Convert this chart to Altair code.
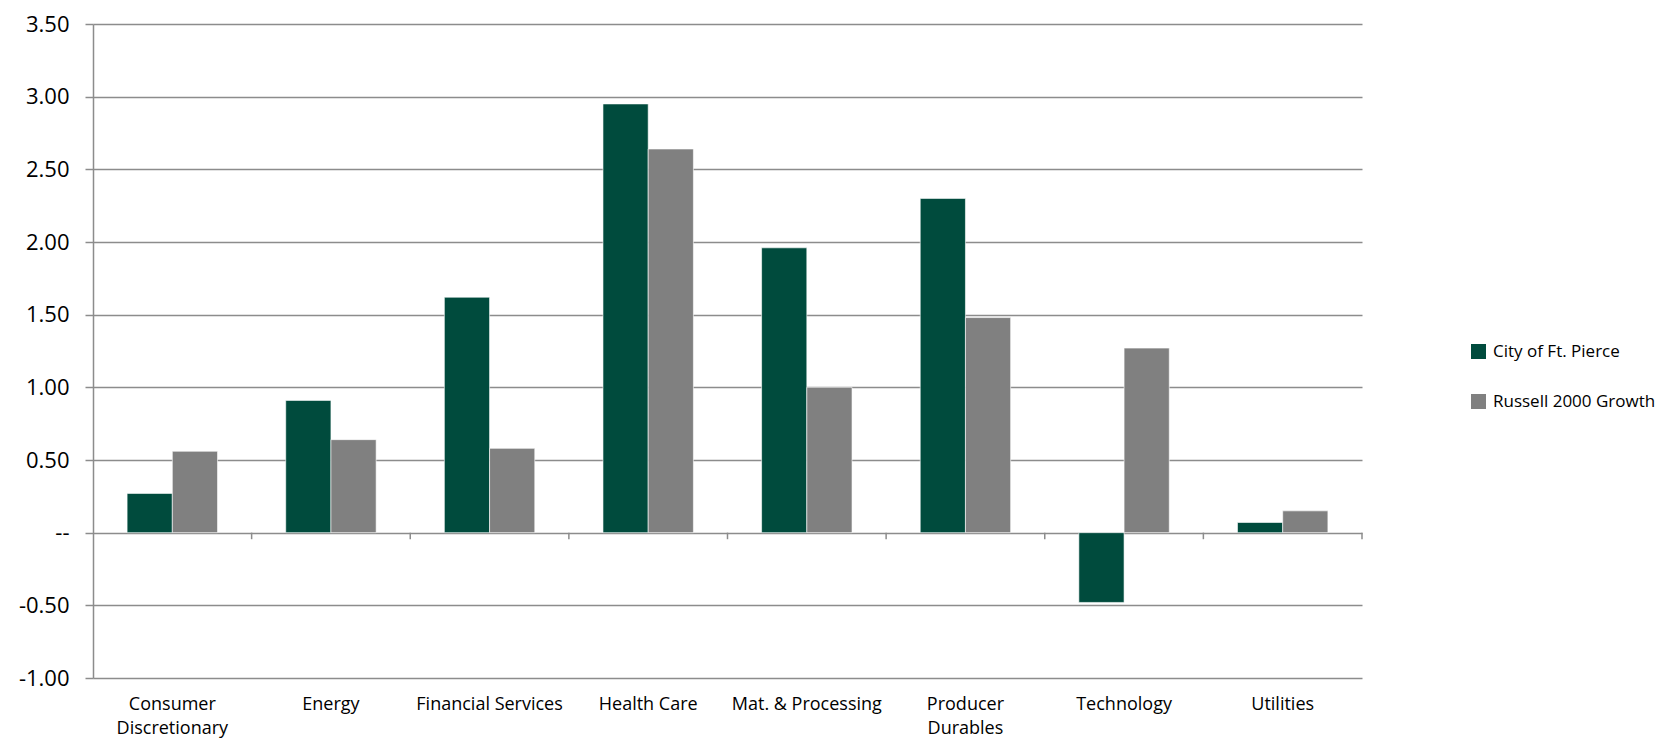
import altair as alt
import pandas as pd

categories = ["Consumer Discretionary", "Energy", "Financial Services", "Health Care",
              "Mat. & Processing", "Producer Durables", "Technology", "Utilities"]
city_values = [0.27, 0.91, 1.62, 2.95, 1.96, 2.30, -0.48, 0.07]
russell_values = [0.56, 0.64, 0.58, 2.64, 1.00, 1.48, 1.27, 0.15]
series_names = ["City of Ft. Pierce", "Russell 2000 Growth"]
series_colors = ["#004B3D", "#808080"]
y_ticks = [-1.0, -0.5, 0.0, 0.5, 1.0, 1.5, 2.0, 2.5, 3.0, 3.5]
boundary_index = [1, 2, 3, 4, 5, 6, 7, 8]

rows = []
for c, a, b in zip(categories, city_values, russell_values):
    rows.append({"category": c, "series": series_names[0], "value": a})
    rows.append({"category": c, "series": series_names[1], "value": b})
df = pd.DataFrame(rows)

FONT = "Open Sans"
GRID = "#8c8c8c"

x_label_expr = ("datum.label == 'Consumer Discretionary' ? ['Consumer', 'Discretionary'] : "
                "datum.label == 'Producer Durables' ? ['Producer', 'Durables'] : datum.label")
y_label_expr = "datum.value == 0 ? '--' : replace(format(datum.value, '.2f'), '\u2212', '-')"

bars = alt.Chart(df).mark_bar(stroke="white", strokeWidth=0.6).encode(
    x=alt.X("category:N", sort=categories, title=None,
            scale=alt.Scale(paddingInner=0.43, paddingOuter=0.215),
            axis=alt.Axis(labelAngle=0, ticks=False, domain=False, grid=False,
                          labelFont=FONT, labelFontSize=18, labelColor="black",
                          labelPadding=17, labelLineHeight=24, labelLimit=300,
                          labelExpr=x_label_expr)),
    xOffset=alt.XOffset("series:N", sort=series_names),
    y=alt.Y("value:Q", stack=None, title=None,
            scale=alt.Scale(domain=[-1.0, 3.5], nice=False, zero=False),
            axis=alt.Axis(values=y_ticks, labelExpr=y_label_expr,
                          labelFont=FONT, labelFontSize=22, labelColor="black",
                          labelPadding=16, tickSize=8, tickColor=GRID, tickWidth=1.5,
                          domainColor=GRID, domainWidth=1.5,
                          grid=True, gridColor=GRID, gridWidth=1.5)),
    y2=alt.datum(0),
    color=alt.Color("series:N",
                    scale=alt.Scale(domain=series_names, range=series_colors),
                    legend=alt.Legend(title=None, orient="none", legendX=1377, legendY=319,
                                      symbolType="square", symbolSize=225,
                                      symbolStrokeWidth=0, labelFont=FONT,
                                      labelFontSize=17, labelColor="black",
                                      labelOffset=6, rowPadding=32, padding=0,
                                      labelLimit=400)),
)

ticks = alt.Chart(pd.DataFrame({"b": boundary_index})).mark_rule(
    color=GRID, strokeWidth=1.5
).encode(
    x=alt.X("b:Q", scale=alt.Scale(domain=[0, len(categories)], nice=False), axis=None),
    y=alt.datum(0),
    y2=alt.datum(-0.045),
)

chart = alt.layer(bars, ticks).resolve_scale(x="independent").properties(
    width=1269, height=654,
    autosize=alt.AutoSizeParams(type="none"),
    padding={"left": 85, "top": 16, "right": 295, "bottom": 60},
).configure_view(stroke=None)

chart.save("out.html", embed_options={"renderer": "svg", "actions": False})
